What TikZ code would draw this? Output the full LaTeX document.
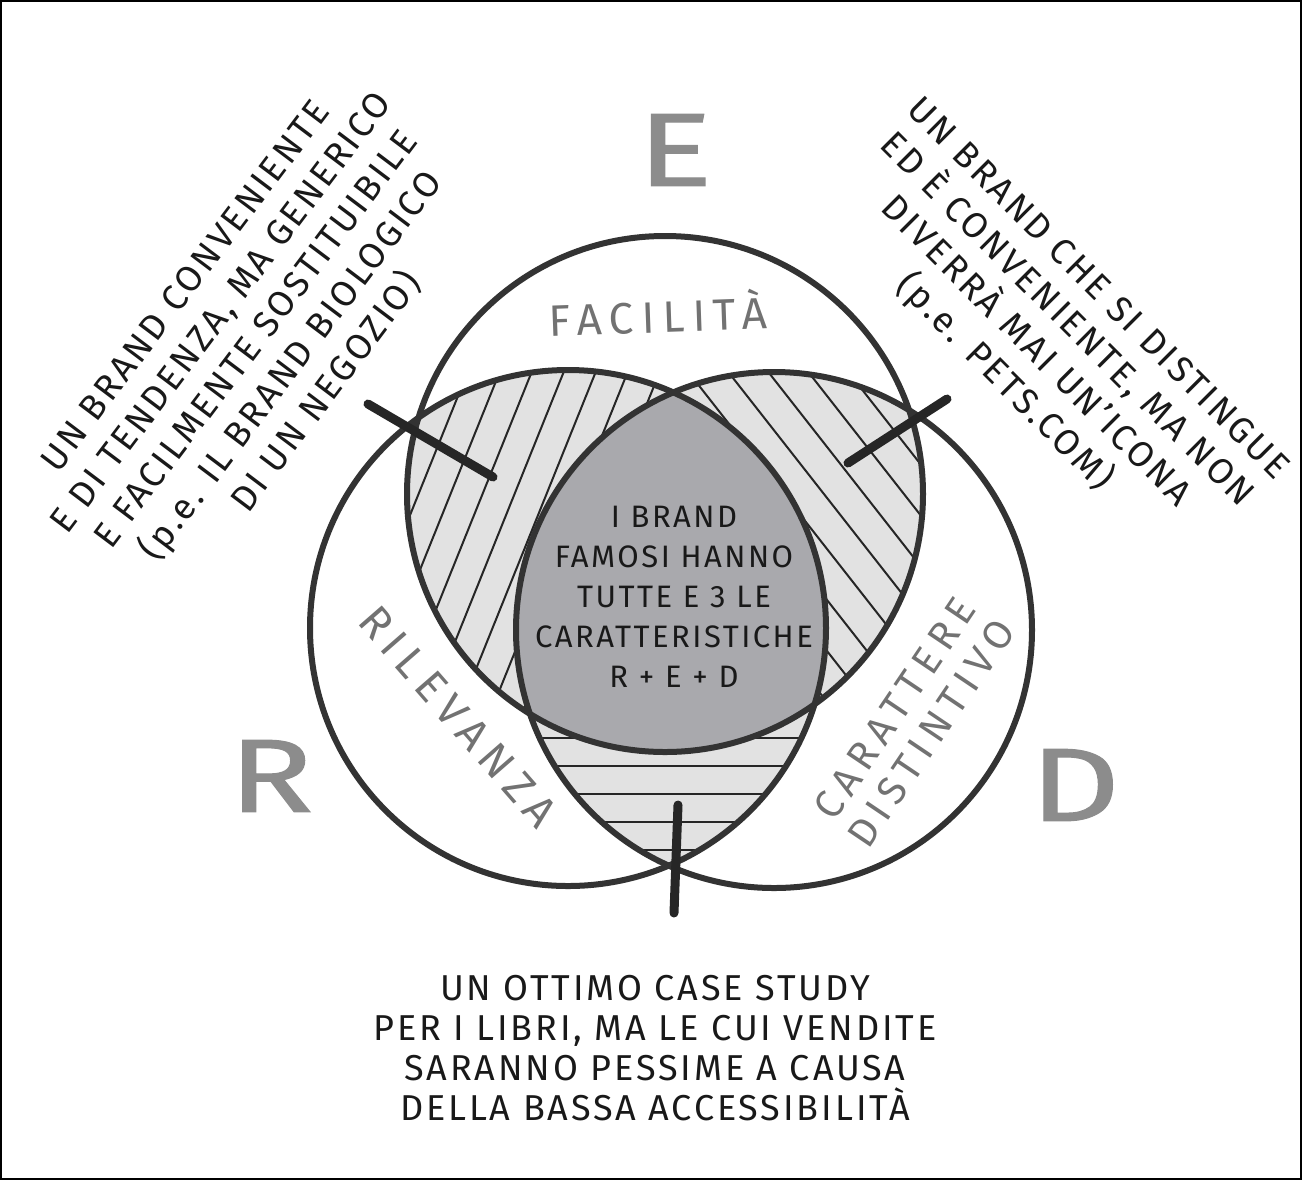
\documentclass[tikz,border=0pt]{standalone}
\usepackage{fontspec}
\setmainfont{Fira Sans}
\newfontfamily\hand[LetterSpace=8]{Fira Sans}
\newfontfamily\handwide[LetterSpace=18]{Fira Sans}
\newfontfamily\broad[FakeStretch=1.35,FakeBold=1]{Fira Sans}
\usetikzlibrary{calc}
\definecolor{rim}{HTML}{333333}
\definecolor{pale}{HTML}{E2E2E2}
\definecolor{core}{HTML}{A9A9AD}
\definecolor{ink}{HTML}{727272}
\definecolor{letter}{HTML}{8C8C8C}

\begin{document}
\begin{tikzpicture}[x=.5pt,y=-.5pt,
	hatch/.style={line width=1pt,black!85},
	rimline/.style={draw=rim,line width=3pt},
	tickmark/.style={line width=4.5pt,line cap=round,black!85},
	note/.style={font=\hand\fontsize{18}{22}\selectfont,align=center,text=black!90},
	ringname/.style={font=\handwide\fontsize{22}{22}\selectfont,align=center,text=ink},
	big/.style={font=\broad\fontsize{52}{52}\selectfont,text=letter}]
			\useasboundingbox (0,0) rectangle (1302,1180);
			\draw[line width=1pt] (1,1) rectangle (1301,1179);
			\path
			(665,494) coordinate (E)
			(568,628) coordinate (R)
			(774,630) coordinate (D)
			(368,404) coordinate (A1)
			(493,477) coordinate (A2)
			(947,399) coordinate (B1)
			(848,463) coordinate (B2)
			(678,805) coordinate (C1)
			(674,913) coordinate (C2);
			\begin{scope}
				\clip (E) circle (258);
				\clip (R) circle (258);
				\fill[pale] (R) circle (258);
				\foreach \k in {-8,...,12} \draw[hatch] ({560+32*\k-112},818) -- ({560+32*\k+112},262);
			\end{scope}
			\begin{scope}
				\clip (E) circle (258);
				\clip (D) circle (258);
				\fill[pale] (D) circle (258);
				\foreach \k in {-12,...,12} \draw[hatch] ({780+40*\k-185},304) -- ({780+40*\k+185},776);
			\end{scope}
			\begin{scope}
				\clip (R) circle (258);
				\clip (D) circle (258);
				\fill[pale] (D) circle (258);
				\foreach \y in {710,738,...,880} \draw[hatch] (500,\y) -- (850,\y);
			\end{scope}
			\begin{scope}
				\clip (E) circle (258);
				\clip (R) circle (258);
				\fill[core] (D) circle (258);
			\end{scope}
			\foreach \c in {E,R,D} \draw[rimline] (\c) circle (258);
			\draw[tickmark] (A1)--(A2) (B1)--(B2) (C1)--(C2);
			\foreach \n/\t/\p in {e/E/{675,150},r/R/{271,776},d/D/{1075,785}} \node[big] (\n) at (\p) {\t};
			\node[ringname,rotate=2] (facilita) at (658,313) {FACILITÀ};
			\node[ringname,rotate=-49] (rilevanza) at (458,717) {RILEVANZA};
			\node[ringname,rotate=56,font=\handwide\fontsize{20}{22}\selectfont] (carattere) at (913,721) {CARATTERE\\DISTINTIVO};
			\node[note,rotate=53] (left) at (257,340) {UN BRAND CONVENIENTE\\E DI TENDENZA, MA GENERICO\\E FACILMENTE SOSTITUIBILE\\(p.e. IL BRAND BIOLOGICO\\DI UN NEGOZIO)};
			\node[note,rotate=-45] (right) at (1050,337) {UN BRAND CHE SI DISTINGUE\\ED È CONVENIENTE, MA NON\\DIVERRÀ MAI UN’ICONA\\(p.e. PETS.COM)};
			\node[note,font=\hand\fontsize{15.5}{20}\selectfont] (all) at (674,597) {I BRAND\\FAMOSI HANNO\\TUTTE E 3 LE\\CARATTERISTICHE\\R + E + D};
			\node[note,font=\hand\fontsize{18}{20}\selectfont] (bottom) at (655,1048) {UN OTTIMO CASE STUDY\\PER I LIBRI, MA LE CUI VENDITE\\SARANNO PESSIME A CAUSA\\DELLA BASSA ACCESSIBILITÀ};
		\end{tikzpicture}
\end{document}
